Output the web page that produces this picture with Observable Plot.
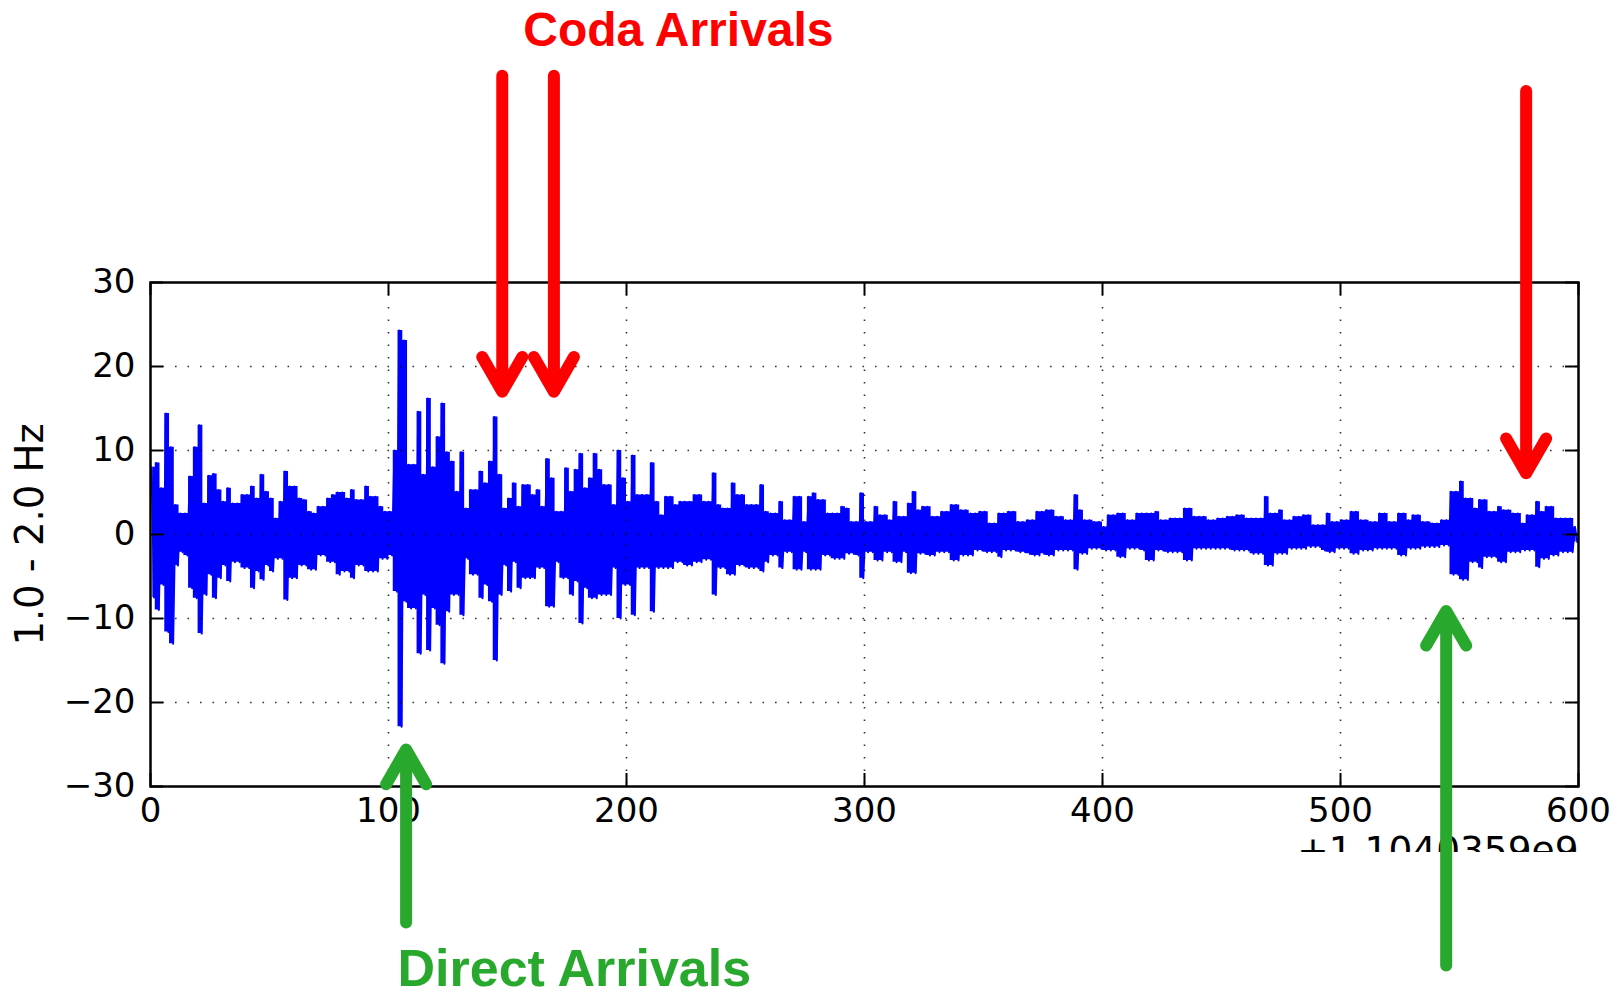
<!DOCTYPE html>
<html>
<head>
<meta charset="utf-8">
<script src="https://cdn.jsdelivr.net/npm/d3@7"></script>
<script src="https://cdn.jsdelivr.net/npm/@observablehq/plot@0.6"></script>
<style>
  html, body { margin: 0; padding: 0; background: #fff; overflow: hidden; }
  #chart svg { display: block; }
</style>
</head>
<body>
<div id="chart"></div>
<script>
// ---- Data (1.0 - 2.0 Hz band-passed seismogram) ----
// envelope samples every 2 s, starting at t = 0 (seconds after 1.1040359e9)
const sampleStep = 2;
const upper = [
  8.0, 8.5, 5.5, 14.4, 10.4, 3.5, 2.5, 2.5, 6.9, 10.4,
  13.0, 3.7, 7.0, 7.2, 5.3, 3.9, 5.5, 3.7, 3.7, 4.7,
  4.7, 5.7, 4.3, 7.1, 5.1, 4.3, 1.9, 3.9, 7.5, 5.7,
  5.7, 4.3, 4.1, 2.7, 2.5, 3.3, 3.3, 4.3, 4.7, 5.0,
  5.0, 4.3, 5.3, 4.1, 4.1, 5.7, 4.5, 4.5, 3.3, 2.7,
  2.7, 10.0, 24.3, 23.1, 8.3, 8.3, 14.6, 7.1, 16.2, 8.0,
  11.6, 15.6, 9.8, 8.7, 5.1, 9.8, 3.1, 5.3, 5.3, 7.5,
  6.1, 8.7, 14.0, 7.1, 3.1, 4.3, 6.1, 3.3, 5.9, 5.9,
  4.7, 5.3, 3.3, 9.0, 6.7, 2.7, 2.7, 7.9, 5.1, 7.7,
  9.6, 5.5, 6.7, 9.6, 7.7, 5.9, 5.9, 3.5, 10.0, 6.7,
  3.9, 9.4, 4.7, 4.7, 4.7, 8.5, 3.9, 2.3, 4.5, 4.5,
  3.5, 3.9, 3.9, 3.9, 4.7, 4.7, 3.9, 3.9, 7.3, 3.5,
  3.1, 3.1, 6.1, 4.7, 4.7, 3.5, 3.5, 3.5, 5.9, 2.7,
  2.5, 2.5, 3.9, 1.7, 1.7, 4.5, 4.5, 1.5, 4.5, 4.9,
  4.1, 4.1, 2.5, 2.5, 2.5, 3.3, 3.1, 1.5, 1.5, 4.9,
  1.5, 1.5, 3.3, 2.3, 2.3, 1.7, 3.9, 2.1, 2.1, 3.7,
  5.1, 2.9, 3.3, 3.3, 2.1, 2.1, 2.7, 2.7, 3.5, 3.5,
  2.9, 2.9, 2.5, 2.5, 2.7, 2.7, 1.3, 1.3, 2.5, 2.5,
  2.7, 2.7, 1.5, 1.5, 1.7, 1.7, 2.7, 2.7, 2.9, 2.9,
  2.1, 2.1, 1.7, 1.7, 4.7, 2.9, 1.7, 1.7, 1.5, 1.5,
  0.9, 2.3, 2.3, 2.5, 2.5, 1.7, 1.7, 2.5, 2.5, 2.5,
  2.5, 2.7, 1.7, 1.7, 1.9, 1.9, 1.9, 3.1, 3.1, 2.1,
  2.1, 2.1, 1.7, 1.7, 1.9, 1.9, 2.1, 2.1, 2.3, 2.3,
  1.9, 1.9, 1.9, 1.9, 4.5, 2.5, 2.5, 2.9, 1.7, 1.7,
  2.1, 2.1, 2.3, 2.3, 1.1, 1.1, 1.1, 2.5, 1.5, 1.5,
  1.7, 1.7, 2.7, 2.7, 1.7, 1.7, 1.5, 1.5, 2.5, 2.5,
  1.5, 1.5, 2.5, 2.5, 1.7, 2.3, 2.3, 1.5, 1.5, 1.3,
  1.3, 1.7, 1.7, 5.1, 5.1, 6.3, 4.3, 4.3, 3.1, 4.1,
  4.1, 2.7, 2.7, 3.3, 2.9, 2.9, 2.5, 2.5, 1.3, 2.3,
  2.3, 3.9, 2.7, 3.3, 3.3, 1.9, 1.9, 1.9, 1.9, 0.9
];
const lower = [
  -7.5, -9.0, -6.0, -11.6, -13.0, -3.7, -2.1, -2.5, -6.4, -7.6,
  -11.8, -7.2, -4.8, -7.6, -5.2, -3.7, -5.6, -3.3, -3.3, -4.0,
  -4.0, -6.4, -4.4, -5.4, -3.7, -4.4, -2.9, -2.9, -7.8, -5.2,
  -5.2, -3.7, -3.7, -4.2, -4.2, -2.5, -2.5, -3.3, -3.3, -4.8,
  -4.4, -4.4, -5.2, -3.7, -3.7, -4.4, -4.4, -4.4, -2.9, -2.9,
  -2.5, -6.8, -22.9, -8.0, -8.8, -8.8, -14.2, -7.2, -13.8, -8.8,
  -10.8, -15.4, -9.2, -7.2, -7.2, -9.6, -2.9, -4.8, -4.8, -7.6,
  -6.0, -8.0, -15.0, -7.2, -3.7, -6.8, -3.3, -6.4, -5.2, -5.2,
  -5.2, -4.0, -4.0, -8.6, -8.6, -3.3, -5.2, -5.2, -7.2, -5.6,
  -10.6, -6.4, -7.6, -7.6, -7.2, -7.2, -7.2, -4.0, -10.0, -6.0,
  -6.0, -9.6, -4.0, -4.0, -4.0, -9.2, -4.0, -4.0, -4.0, -4.0,
  -3.3, -3.3, -3.7, -3.7, -3.3, -3.3, -3.0, -3.0, -7.2, -4.0,
  -4.0, -4.8, -4.8, -3.7, -3.7, -4.0, -4.0, -4.0, -4.4, -3.3,
  -2.5, -2.5, -4.0, -2.1, -2.1, -4.2, -4.2, -2.1, -4.2, -4.2,
  -4.2, -2.5, -2.5, -2.9, -2.9, -2.9, -2.3, -2.3, -2.5, -5.2,
  -2.1, -2.1, -3.1, -3.1, -2.1, -2.1, -3.3, -3.3, -2.1, -4.6,
  -4.6, -2.3, -2.3, -2.5, -2.5, -2.1, -2.1, -2.1, -3.1, -3.1,
  -2.5, -2.5, -2.5, -1.9, -1.9, -2.1, -2.1, -2.1, -2.7, -1.9,
  -1.9, -1.9, -2.1, -2.1, -2.3, -2.5, -2.5, -2.3, -2.5, -2.5,
  -1.9, -1.9, -1.9, -1.9, -4.2, -2.3, -2.3, -1.7, -1.7, -1.7,
  -1.9, -1.9, -1.9, -2.7, -2.7, -1.7, -1.7, -1.7, -1.9, -3.1,
  -3.1, -1.9, -1.9, -2.1, -2.1, -2.1, -2.1, -3.1, -3.1, -1.7,
  -1.7, -1.7, -1.7, -1.7, -1.7, -1.7, -1.7, -1.9, -1.9, -1.9,
  -1.9, -2.3, -2.3, -2.3, -3.7, -3.7, -2.3, -2.3, -2.3, -1.7,
  -1.7, -1.7, -1.7, -1.5, -1.5, -1.5, -1.9, -2.1, -2.1, -1.7,
  -1.7, -1.7, -2.3, -2.3, -1.9, -1.9, -1.9, -1.7, -1.7, -1.7,
  -1.7, -1.7, -2.5, -2.5, -1.7, -1.7, -1.7, -1.5, -1.5, -1.5,
  -1.5, -1.3, -1.3, -4.8, -4.8, -5.4, -5.4, -3.3, -3.3, -4.0,
  -2.7, -2.7, -2.7, -3.3, -3.3, -2.1, -2.1, -2.1, -1.9, -1.9,
  -1.9, -3.9, -2.9, -2.9, -2.5, -2.5, -2.1, -2.1, -2.1, -0.9
];

// axis ticks
const xTicks = [0, 100, 200, 300, 400, 500, 600];
const yTicks = [-30, -20, -10, 0, 10, 20, 30];
const xGrid = [100, 200, 300, 400, 500];
const yGrid = [-20, -10, 0, 10, 20];
const yLabel = ["1.0 - 2.0 Hz"];
const offsetLabel = ["+1.1040359e9"];

// annotations (in data units)
const codaArrows = [
  {x: 147.8, from: 54.6, to: 17.0},
  {x: 169.5, from: 54.6, to: 17.0},
  {x: 578.0, from: 52.8, to: 7.3}
];
const directArrows = [
  {x: 107.4, from: -46.2, to: -25.6},
  {x: 544.4, from: -51.3, to: -9.1}
];
const codaLabel = [{text: "Coda Arrivals", x: 221.8, y: 58.2}];
const directLabel = [{text: "Direct Arrivals", x: 103.8, y: -53.8}];

// ---- build the trace: each 2 s sample window has a peak and a trough ----
const windows = upper.map((hi, i) => ({t: i * sampleStep + sampleStep / 2, hi, lo: lower[i]}));
const trace = upper.flatMap((hi, i) => [
  {t: i * sampleStep + sampleStep / 4, v: hi},
  {t: i * sampleStep + 3 * sampleStep / 4, v: lower[i]}
]);

const W = 1620, H = 997;
const mL = 150, mR = 42, mT = 282, mB = 211;
const frameW = W - mL - mR, frameH = H - mT - mB;
const tick = 13;
const fmt = d => d3.format("d")(d).replace("-", "\u2212");

const red = "#ff0000", green = "#29a82e", blue = "#0000ff";

const chart = Plot.plot({
  width: W, height: H,
  marginLeft: mL, marginRight: mR, marginTop: mT, marginBottom: mB,
  x: {domain: [0, 600]},
  y: {domain: [-30, 30]},
  style: {fontFamily: "DejaVu Sans", fontSize: "34px", background: "#fff", color: "#000", overflow: "visible"},
  marks: [
    Plot.areaY(windows, {x: "t", y1: "lo", y2: "hi", fill: blue, curve: "step"}),
    Plot.line(trace, {x: "t", y: "v", stroke: blue, strokeWidth: 2}),
    Plot.gridX(xGrid, {stroke: "#000", strokeOpacity: 0.8, strokeWidth: 1.6, strokeDasharray: "1.6,10.9"}),
    Plot.gridY(yGrid, {stroke: "#000", strokeOpacity: 0.8, strokeWidth: 1.6, strokeDasharray: "1.6,10.9"}),
    // inward ticks on all four sides
    Plot.ruleX(xTicks, {x: d => d, insetTop: frameH - tick, stroke: "#000", strokeWidth: 2}),
    Plot.ruleX(xTicks, {x: d => d, insetBottom: frameH - tick, stroke: "#000", strokeWidth: 2}),
    Plot.ruleY(yTicks, {y: d => d, insetRight: frameW - tick, stroke: "#000", strokeWidth: 2}),
    Plot.ruleY(yTicks, {y: d => d, insetLeft: frameW - tick, stroke: "#000", strokeWidth: 2}),
    Plot.frame({stroke: "#000", strokeWidth: 2.5}),
    Plot.axisX(xTicks, {tickSize: 0, tickPadding: 11, fontSize: 34, tickFormat: fmt, label: null}),
    Plot.axisY(yTicks, {tickSize: 0, tickPadding: 15, fontSize: 34, tickFormat: fmt, label: null}),
    Plot.text(yLabel, {text: d => d, frameAnchor: "left", textAnchor: "middle", rotate: -90, dx: -120, fontSize: 38.5}),
    Plot.text(offsetLabel, {text: d => d, frameAnchor: "bottom-right", dy: 50, lineAnchor: "top", textAnchor: "end", fontSize: 37.5}),
    // annotations
    Plot.arrow(codaArrows, {x1: "x", x2: "x", y1: "from", y2: "to", stroke: red, strokeWidth: 12,
      headLength: 5, headAngle: 60, strokeLinecap: "round", strokeLinejoin: "miter"}),
    Plot.arrow(directArrows, {x1: "x", x2: "x", y1: "from", y2: "to", stroke: green, strokeWidth: 12,
      headLength: 5, headAngle: 60, strokeLinecap: "round", strokeLinejoin: "miter"}),
    Plot.text(codaLabel, {x: "x", y: "y", text: "text", fill: red, fontSize: 48, fontWeight: "bold",
      fontFamily: "Liberation Sans", textAnchor: "middle", lineAnchor: "bottom"}),
    Plot.text(directLabel, {x: "x", y: "y", text: "text", fill: green, fontSize: 52, fontWeight: "bold",
      fontFamily: "Liberation Sans", textAnchor: "start", lineAnchor: "bottom"})
  ]
});

document.getElementById("chart").appendChild(chart);

// the offset label is cut off at the bottom in the reference figure
const svg = d3.select(chart);
svg.append("defs").append("clipPath").attr("id", "offset-clip")
  .append("rect").attr("x", 0).attr("y", 0).attr("width", W).attr("height", 852);
const offText = svg.selectAll("text").filter(function () { return this.textContent === offsetLabel[0]; });
if (!offText.empty()) {
  const g = offText.node().parentNode;
  const wrap = svg.append("g").attr("clip-path", "url(#offset-clip)");
  g.parentNode.insertBefore(wrap.node(), g);
  wrap.node().appendChild(g);
}
</script>
</body>
</html>
